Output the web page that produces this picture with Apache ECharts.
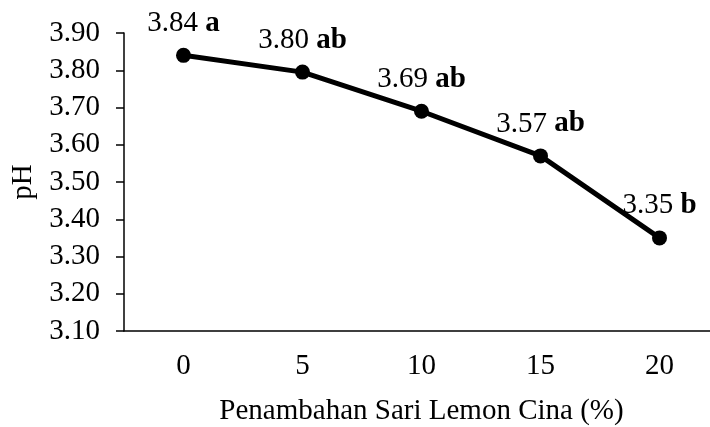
<!DOCTYPE html>
<html><head><meta charset="utf-8">
<script src="https://cdn.jsdelivr.net/npm/echarts@6/dist/echarts.min.js"></script>
<style>html,body{margin:0;padding:0;background:#fff;overflow:hidden;width:710px;height:427px}#c{width:720px;height:427px}</style>
</head><body><div id="c"></div>
<script>
const categories = ['0', '5', '10', '15', '20'];
const phValues = [3.84, 3.795, 3.69, 3.57, 3.35];
const valueLabels = ['3.84', '3.80', '3.69', '3.57', '3.35'];
const letters = ['a', 'ab', 'ab', 'ab', 'b'];
const yTicks = { min: 3.1, max: 3.9, interval: 0.1 };

const FONT = '"Liberation Serif", "Times New Roman", serif';
const FS = 29;
const chart = echarts.init(document.getElementById('c'));
chart.setOption({
  animation: false,
  backgroundColor: '#fff',
  textStyle: { fontFamily: FONT, color: '#000' },
  grid: { left: 124, right: 1, top: 33, bottom: 96, containLabel: false, outerBoundsMode: 'none' },
  xAxis: {
    type: 'category',
    data: categories,
    boundaryGap: true,
    name: 'Penambahan Sari Lemon Cina (%)',
    nameLocation: 'middle',
    nameGap: 66,
    nameTextStyle: { fontFamily: FONT, fontSize: FS, color: '#000' },
    axisLine: { lineStyle: { color: '#000', width: 1.5 } },
    axisTick: { alignWithLabel: true, length: 7, lineStyle: { color: '#000', width: 1.5 } },
    axisLabel: { fontFamily: FONT, fontSize: FS, color: '#000', margin: 21 },
    splitLine: { show: false }
  },
  yAxis: {
    type: 'value',
    min: yTicks.min, max: yTicks.max, interval: yTicks.interval,
    name: 'pH',
    nameLocation: 'middle',
    nameGap: 86,
    nameTextStyle: { fontFamily: FONT, fontSize: FS, color: '#000' },
    axisLine: { show: true, lineStyle: { color: '#000', width: 1.5 } },
    axisTick: { show: true, length: 8, lineStyle: { color: '#000', width: 1.5 } },
    axisLabel: { fontFamily: FONT, fontSize: FS, color: '#000', margin: 24,
      formatter: v => v.toFixed(2) },
    splitLine: { show: false }
  },
  series: [{
    type: 'line',
    data: phValues,
    symbol: 'circle',
    symbolSize: 15,
    itemStyle: { color: '#000' },
    lineStyle: { color: '#000', width: 5 },
    label: {
      show: true,
      position: 'top',
      distance: 10,
      formatter: p => '{n|' + valueLabels[p.dataIndex] + ' }{b|' + letters[p.dataIndex] + '}',
      rich: {
        n: { fontFamily: FONT, fontSize: FS, color: '#000' },
        b: { fontFamily: FONT, fontSize: FS, color: '#000', fontWeight: 'bold' }
      }
    }
  }]
});
</script></body></html>
